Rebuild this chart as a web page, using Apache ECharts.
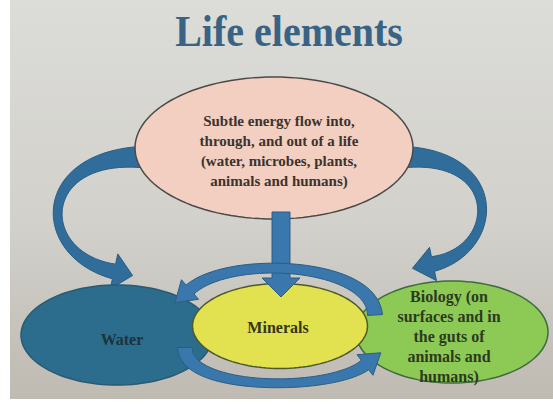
<!DOCTYPE html>
<html>
<head>
<meta charset="utf-8">
<script src="https://cdn.jsdelivr.net/npm/echarts@6/dist/echarts.min.js"></script>
<style>
html, body { margin: 0; padding: 0; background: #fff; }
#chart { width: 553px; height: 406px; }
</style>
</head>
<body>
<div id="chart"></div>
<script>
// diagram data (node centres are values on hidden 553 x 406 axes)
var titleText = 'Life elements';
var nodeNames = ['Energy', 'Water', 'Biology', 'Minerals'];
var nodeLabels = [
    'Subtle energy flow into,\nthrough, and out of a life\n(water, microbes, plants,\nanimals and humans)',
    'Water',
    'Biology (on\nsurfaces and in\nthe guts of\nanimals and\nhumans)',
    'Minerals'
];
var nodeX = [274, 117, 452, 280];
var nodeY = [148, 335, 332, 326];
// arrows: source -> target
var linkFrom = ['Energy', 'Energy', 'Energy', 'Biology', 'Water'];
var linkTo = ['Water', 'Biology', 'Minerals', 'Water', 'Biology'];

//节点样式
var nodeStyle = {
    Energy:   {rx: 139, ry: 71, fill: '#f2cfc0', stroke: '#4b4a48', text: '#3a3330', size: 15, lh: 20, dx: 5, dy: 3},
    Water:    {rx: 96, ry: 50, fill: '#2c6d8d', stroke: '#285a72', text: '#1b333c', size: 16, lh: 20, dx: 5, dy: 4},
    Biology:  {rx: 96, ry: 51, fill: '#8dc955', stroke: '#3d6b3f', text: '#2c3a20', size: 16, lh: 20, dx: -3, dy: 4},
    Minerals: {rx: 87.5, ry: 42.5, fill: '#e2e14f', stroke: '#4d5a2c', text: '#35351c', size: 16, lh: 20, dx: -2, dy: 1}
};
//箭头形状 (offsets from the source / target node, widths, head)
var arrowShape = [
    {s: [-134, 9], e: [-3, -63.5], h1: [-105, 0], h2: [-79, -17], w: [21, 9, 15], head: [36, 19], front: false, fill: '#306d9a'},
    {s: [133, 9], e: [-19, -68], h1: [98, 0], h2: [67, -14], w: [21, 9, 15], head: [34, 21], front: false, fill: '#306d9a'},
    {s: [7, 64], e: [1, -48], h1: [0, 20], h2: [0, -20], w: [18, 18, 18], head: [38, 19], front: true, fill: '#3a77ad'},
    {s: [-77, -17], e: [73, -45.5], h1: [-3, -53], h2: [40, -35], w: [15, 10, 12], head: [26, 20], front: true, fill: '#3a77ad'},
    {s: [68, 12.5], e: [-87, 33], h1: [0, 44], h2: [-35, 27], w: [15, 9, 12], head: [26, 20], front: true, fill: '#3a77ad'}
];

function nodeIndex(name) {
    return nodeNames.indexOf(name);
}

// ribbon polygon along a cubic bezier, ending in an arrow head
function ribbon(p0, p1, p2, p3, w, head) {
    var n = 40, left = [], right = [], last = null;
    for (var i = 0; i <= n; i++) {
        var t = i / n, u = 1 - t;
        var x = u * u * u * p0[0] + 3 * u * u * t * p1[0] + 3 * u * t * t * p2[0] + t * t * t * p3[0];
        var y = u * u * u * p0[1] + 3 * u * u * t * p1[1] + 3 * u * t * t * p2[1] + t * t * t * p3[1];
        var dx = 3 * u * u * (p1[0] - p0[0]) + 6 * u * t * (p2[0] - p1[0]) + 3 * t * t * (p3[0] - p2[0]);
        var dy = 3 * u * u * (p1[1] - p0[1]) + 6 * u * t * (p2[1] - p1[1]) + 3 * t * t * (p3[1] - p2[1]);
        var len = Math.sqrt(dx * dx + dy * dy) || 1;
        var nx = -dy / len, ny = dx / len;
        var hw = (w[0] * 2 * (t - 0.5) * (t - 1) - w[1] * 4 * t * (t - 1) + w[2] * 2 * t * (t - 0.5)) / 2;
        left.push([x + nx * hw, y + ny * hw]);
        right.push([x - nx * hw, y - ny * hw]);
        last = {x: x, y: y, tx: dx / len, ty: dy / len, nx: nx, ny: ny};
    }
    var hh = head[0] / 2;
    var tip = [
        [last.x + last.nx * hh, last.y + last.ny * hh],
        [last.x + last.tx * head[1], last.y + last.ty * head[1]],
        [last.x - last.nx * hh, last.y - last.ny * hh]
    ];
    return left.concat(tip).concat(right.reverse());
}

function arrowItem(front) {
    return function (params, api) {
        var g = arrowShape[params.dataIndex];
        if (g.front !== front) {
            return null;
        }
        var p0 = api.coord([api.value(0) + g.s[0], api.value(1) + g.s[1]]);
        var p3 = api.coord([api.value(2) + g.e[0], api.value(3) + g.e[1]]);
        var p1 = [p0[0] + g.h1[0], p0[1] + g.h1[1]];
        var p2 = [p3[0] + g.h2[0], p3[1] + g.h2[1]];
        return {
            type: 'polygon',
            shape: {points: ribbon(p0, p1, p2, p3, g.w, g.head)},
            style: {fill: g.fill, stroke: '#2b5d84', lineWidth: 1}
        };
    };
}

function nodeItem(params, api) {
    var name = nodeNames[params.dataIndex];
    var st = nodeStyle[name];
    var c = api.coord([api.value(0), api.value(1)]);
    var r = api.size([st.rx, st.ry]);
    var pts = [];
    for (var k = 0; k < 120; k++) {
        var a = k / 120 * Math.PI * 2;
        pts.push([c[0] + r[0] * Math.cos(a), c[1] + r[1] * Math.sin(a)]);
    }
    return {
        type: 'group',
        children: [
            {type: 'polygon', shape: {points: pts}, style: {fill: st.fill, stroke: st.stroke, lineWidth: 1.5}},
            {
                type: 'text', x: c[0] + st.dx, y: c[1] + st.dy,
                style: {
                    text: nodeLabels[params.dataIndex], fill: st.text,
                    font: 'bold ' + st.size + 'px "Liberation Serif"',
                    align: 'center', verticalAlign: 'middle', lineHeight: st.lh
                }
            }
        ]
    };
}

var nodeData = nodeNames.map(function (n, i) {
    return [nodeX[i], nodeY[i]];
});
var linkData = linkFrom.map(function (f, i) {
    var a = nodeIndex(f), b = nodeIndex(linkTo[i]);
    return [nodeX[a], nodeY[a], nodeX[b], nodeY[b]];
});

var chart = echarts.init(document.getElementById('chart'), null, {renderer: 'svg'});
var option = {
    animation: false,
    grid: {left: 0, right: 0, top: 0, bottom: 0},
    xAxis: {type: 'value', min: 0, max: 553, show: false},
    yAxis: {type: 'value', min: 0, max: 406, inverse: true, show: false},
    graphic: [
        {
            type: 'rect', z: -10,
            shape: {x: 10, y: 0, width: 543, height: 399},
            style: {
                fill: new echarts.graphic.LinearGradient(0, 0, 0, 1, [
                    {offset: 0, color: '#dcdcd8'},
                    {offset: 0.55, color: '#d2d1cc'},
                    {offset: 1, color: '#bfbab2'}
                ])
            }
        },
        {
            type: 'text', z: 10, x: 289, y: 31, scaleY: 1.12,
            style: {
                text: titleText, font: 'bold 40px "Liberation Serif"',
                fill: '#396385', align: 'center', verticalAlign: 'middle'
            }
        }
    ],
    series: [
        {type: 'custom', z: 1, renderItem: arrowItem(false), encode: {x: [0, 2], y: [1, 3]}, data: linkData},
        {type: 'custom', z: 2, renderItem: nodeItem, encode: {x: 0, y: 1}, data: nodeData},
        {type: 'custom', z: 3, renderItem: arrowItem(true), encode: {x: [0, 2], y: [1, 3]}, data: linkData}
    ]
};
chart.setOption(option);
</script>
</body>
</html>
